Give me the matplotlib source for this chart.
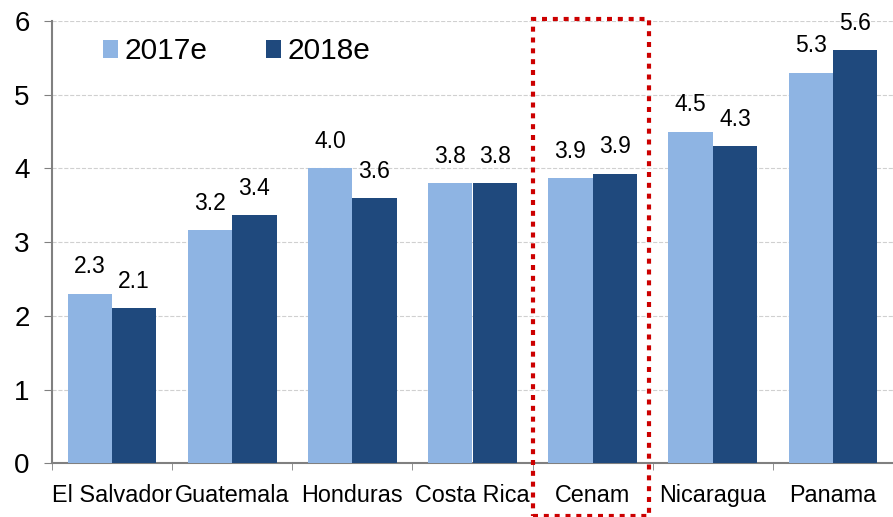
import matplotlib
matplotlib.use('Agg')
import matplotlib.pyplot as plt
from matplotlib.patches import Rectangle
import numpy as np

plt.rcParams['font.family'] = ['Liberation Sans', 'DejaVu Sans']

# --- Data ---
countries = ["El Salvador", "Guatemala", "Honduras", "Costa Rica", "Cenam", "Nicaragua", "Panama"]
growth_2017 = [2.3, 3.16, 4.0, 3.8, 3.87, 4.5, 5.3]
growth_2018 = [2.1, 3.37, 3.6, 3.8, 3.93, 4.3, 5.6]
series_labels = ["2017e", "2018e"]
highlight = "Cenam"

LIGHT = '#8EB4E3'
DARK = '#1F497D'


def main():
    fig = plt.figure(figsize=(8.93, 5.17), dpi=100)
    ax = fig.add_axes([52 / 893, 53.7 / 517, 841 / 893, 442.3 / 517])

    x = np.arange(len(countries))
    w = 0.369
    b1 = ax.bar(x - w / 2, growth_2017, w, color=LIGHT, label=series_labels[0], zorder=3)
    b2 = ax.bar(x + w / 2, growth_2018, w, color=DARK, label=series_labels[1], zorder=3)

    for bars in (b1, b2):
        for rect in bars:
            h = rect.get_height()
            ax.annotate(f"{h:.1f}", xy=(rect.get_x() + rect.get_width() / 2, h),
                        xytext=(0, 11), textcoords='offset points',
                        ha='center', va='bottom', fontsize=16.5)

    ax.set_ylim(0, 6)
    ax.set_xlim(-0.5, -0.5 + 841 / 120.5)
    ax.set_yticks(range(7))
    ax.tick_params(axis='y', labelsize=20, length=6, color='#808080', pad=10)

    ax.set_xticks(x)
    ax.set_xticklabels(countries)
    ax.set_xticks(np.arange(-0.5, len(countries), 1.0), minor=True)
    ax.tick_params(axis='x', which='major', length=0, labelsize=16.8, pad=15)
    ax.tick_params(axis='x', which='minor', length=5, color='#808080')

    ax.grid(axis='y', color='#D0D0D0', linestyle='--', linewidth=0.8, zorder=0)
    ax.set_axisbelow(True)
    for s in ('top', 'right'):
        ax.spines[s].set_visible(False)
    for s in ('left', 'bottom'):
        ax.spines[s].set_color('#808080')
        ax.spines[s].set_linewidth(1.5)

    ax.legend(loc='upper left', bbox_to_anchor=(0.041, 1.0), ncol=2, frameon=False,
              fontsize=21.5, handlelength=0.52, handleheight=0.52, handletextpad=0.2,
              columnspacing=1.95, borderaxespad=0.15)

    # red dotted box around the regional aggregate
    i = countries.index(highlight)
    box = Rectangle((i - 0.5, -0.72), 0.97, 6.75, fill=False, edgecolor='#CC0000',
                    linewidth=3, linestyle=(0, (1.2, 1.4)), clip_on=False, zorder=5)
    ax.add_patch(box)

    fig.savefig("out.png", dpi=100)
    plt.close(fig)


if __name__ == "__main__":
    main()
